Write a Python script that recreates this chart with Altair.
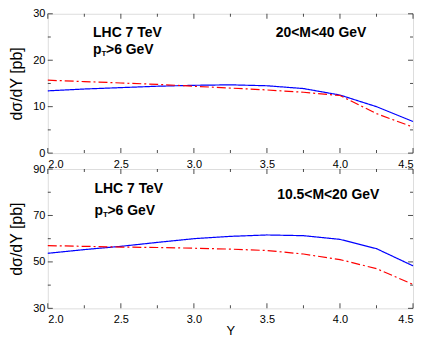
import altair as alt
import pandas as pd

# ---- data ----
rap = [2.0, 2.25, 2.5, 2.75, 3.0, 3.25, 3.5, 3.75, 4.0, 4.25, 4.5]
top_blue = [13.4, 13.8, 14.1, 14.4, 14.6, 14.7, 14.5, 13.9, 12.5, 10.0, 6.8]
top_red = [15.7, 15.4, 15.1, 14.8, 14.4, 14.0, 13.6, 13.1, 12.4, 8.5, 5.6]
bot_blue = [53.7, 55.3, 56.7, 58.4, 60.0, 61.0, 61.6, 61.3, 59.7, 55.7, 48.3]
bot_red = [57.0, 56.7, 56.4, 56.2, 55.9, 55.5, 54.9, 53.4, 51.0, 47.1, 40.3]

x_major = [2.0, 2.5, 3.0, 3.5, 4.0, 4.5]
x_minor = [2.25, 2.75, 3.25, 3.75, 4.25]
top_y_major = [0, 10, 20, 30]
top_y_minor = [5, 15, 25]
bot_y_major = [30, 50, 70, 90]
bot_y_minor = [40, 60, 80]

top_labels = ["LHC 7 TeV", "p", "T", ">6 GeV", "20<M<40 GeV"]
top_label_x = [2.31, 2.31, 2.31, 2.31, 3.56]
top_label_y = [25.9, 22.3, 22.3, 22.3, 25.9]
bot_labels = ["LHC 7 TeV", "p", "T", ">6 GeV", "10.5<M<20 GeV"]
bot_label_x = [2.32, 2.32, 2.32, 2.32, 3.57]
bot_label_y = [81.4, 72.0, 72.0, 72.0, 78.9]

W, H = 367, 140
FONT = "Liberation Sans"
MAJ, MIN = 5, 3


def tick_layers(vals, ln, ydom):
    xt = pd.DataFrame({"Y": [v for v in vals[0]]})
    yt = pd.DataFrame({"s": [v for v in vals[1]]})
    base = dict(thickness=1, color="black", size=ln)
    return [
        alt.Chart(xt).mark_tick(orient="vertical", yOffset=-ln / 2, **base)
        .encode(x="Y:Q", y=alt.datum(ydom[0])),
        alt.Chart(xt).mark_tick(orient="vertical", yOffset=ln / 2, **base)
        .encode(x="Y:Q", y=alt.datum(ydom[1])),
        alt.Chart(yt).mark_tick(orient="horizontal", xOffset=ln / 2, **base)
        .encode(y="s:Q", x=alt.datum(2.0)),
        alt.Chart(yt).mark_tick(orient="horizontal", xOffset=-ln / 2, **base)
        .encode(y="s:Q", x=alt.datum(4.5)),
    ]


def panel(blue, red, ydom, ymaj, ymin, labels, lx, ly, xtitle):
    df = pd.DataFrame({
        "Y": rap * 2,
        "s": blue + red,
        "model": ["blue"] * len(rap) + ["red"] * len(rap),
    })
    xscale = alt.Scale(domain=[2.0, 4.5], nice=False, zero=False)
    yscale = alt.Scale(domain=ydom, nice=False, zero=False)
    xaxis_kw = dict(values=x_major, format=".1f", ticks=False, grid=False,
                    domain=False, labelPadding=5, labelFontSize=11,
                    labelFont=FONT, labelColor="black")
    if xtitle:
        xaxis = alt.Axis(title="Y", titleFont=FONT, titleFontSize=13,
                         titleFontWeight="normal", titleY=26,
                         titleBaseline="alphabetic", **xaxis_kw)
    else:
        xaxis = alt.Axis(title=None, **xaxis_kw)
    yaxis = alt.Axis(values=ymaj, format="d", ticks=False, grid=False,
                     domain=False, labelPadding=3, labelFontSize=11,
                     labelFont=FONT, labelColor="black",
                     title="dσ/dY [pb]", titleFont=FONT, titleFontSize=16,
                     titleFontWeight="normal", titleX=-23, titleY=H / 2,
                     titleAngle=270, titleAlign="center",
                     titleBaseline="bottom")

    lines = alt.Chart(df).mark_line(strokeWidth=1.2).encode(
        x=alt.X("Y:Q", scale=xscale, axis=xaxis),
        y=alt.Y("s:Q", scale=yscale, axis=yaxis),
        color=alt.Color("model:N", scale=alt.Scale(domain=["blue", "red"],
                        range=["#0000ff", "#ff0000"]), legend=None),
        strokeDash=alt.StrokeDash("model:N", scale=alt.Scale(
            domain=["blue", "red"], range=[[1, 0], [9, 3, 2, 3]]), legend=None),
    )

    ticks = (tick_layers((x_major, ymaj), MAJ, ydom)
             + tick_layers((x_minor, ymin), MIN, ydom))

    tdf = pd.DataFrame({"Y": lx, "s": ly, "t": labels})
    txt_kw = dict(align="left", baseline="middle", font=FONT,
                  fontWeight="bold", color="black")
    main_txt = alt.Chart(tdf.iloc[[0, 1, 4]]).mark_text(
        fontSize=14, **txt_kw).encode(x="Y:Q", y="s:Q", text="t:N")
    sub_txt = alt.Chart(tdf.iloc[[2]]).mark_text(
        fontSize=8, dx=8.5, dy=4, **txt_kw).encode(x="Y:Q", y="s:Q", text="t:N")
    rest_txt = alt.Chart(tdf.iloc[[3]]).mark_text(
        fontSize=14, dx=13, **txt_kw).encode(x="Y:Q", y="s:Q", text="t:N")

    return alt.layer(lines, *ticks, main_txt, sub_txt, rest_txt).properties(
        width=W, height=H)


top = panel(top_blue, top_red, [0, 30], top_y_major, top_y_minor,
            top_labels, top_label_x, top_label_y, False)
bot = panel(bot_blue, bot_red, [30, 90], bot_y_major, bot_y_minor,
            bot_labels, bot_label_x, bot_label_y, True)

chart = alt.vconcat(top, bot, spacing=16, bounds="flush").properties(
    padding={"left": 0, "top": -2, "right": 0, "bottom": 0},
).configure_view(stroke="black", strokeWidth=1.5).configure(background="white")

chart.save("out.html", embed_options={"renderer": "svg", "actions": False})
